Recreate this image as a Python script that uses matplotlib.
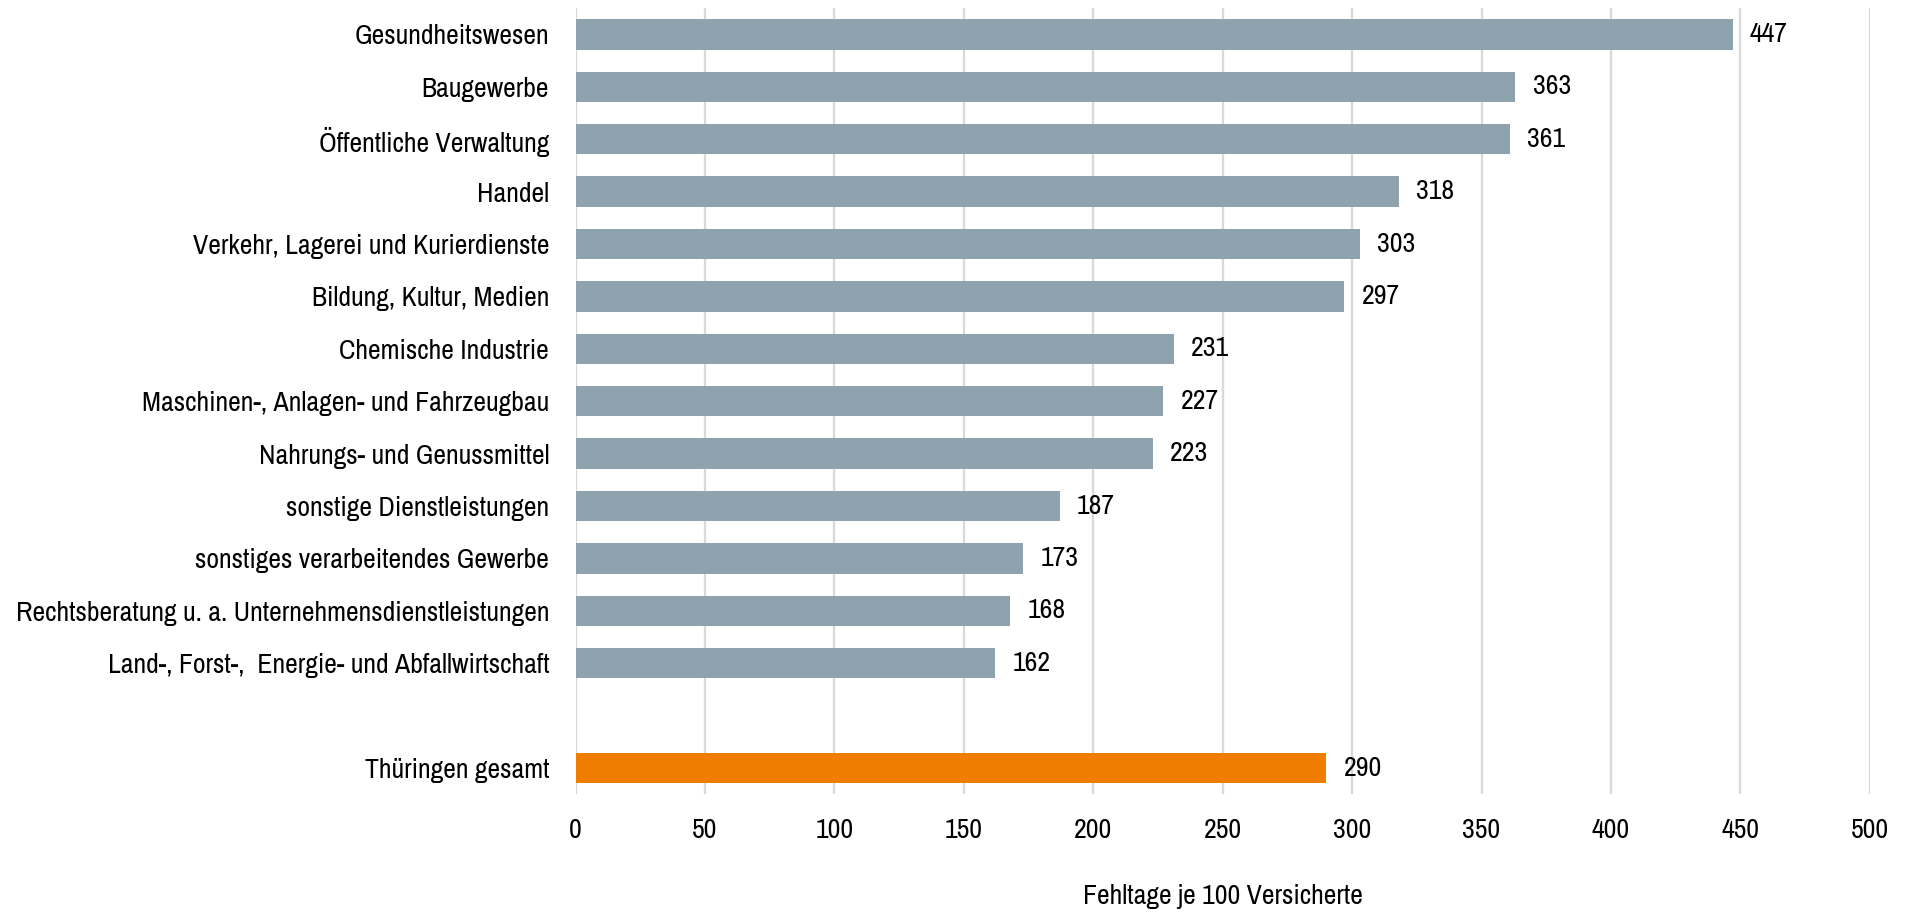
import matplotlib
matplotlib.use("Agg")
import matplotlib.pyplot as plt
from matplotlib import font_manager

categories = [
    "Gesundheitswesen",
    "Baugewerbe",
    "Öffentliche Verwaltung",
    "Handel",
    "Verkehr, Lagerei und Kurierdienste",
    "Bildung, Kultur, Medien",
    "Chemische Industrie",
    "Maschinen-, Anlagen- und Fahrzeugbau",
    "Nahrungs- und Genussmittel",
    "sonstige Dienstleistungen",
    "sonstiges verarbeitendes Gewerbe",
    "Rechtsberatung u. a. Unternehmensdienstleistungen",
    "Land-, Forst-,  Energie- und Abfallwirtschaft",
]
values = [447, 363, 361, 318, 303, 297, 231, 227, 223, 187, 173, 168, 162]
total_label = "Thüringen gesamt"
total_value = 290
xticks = [0, 50, 100, 150, 200, 250, 300, 350, 400, 450, 500]
xlabel = "Fehltage je 100 Versicherte"

names = {f.name for f in font_manager.fontManager.ttflist}
fam = ["Liberation Sans Narrow", "Arial Narrow", "Archivo Narrow", "PT Sans Narrow", "Liberation Sans"]
fam = [f for f in fam if f in names] + ["DejaVu Sans"]
plt.rcParams["font.family"] = fam

fs = 20
bar_col = "#8FA3AF"
tot_col = "#EF7D00"

fig = plt.figure(figsize=(19.06, 9.15), dpi=100)
ax = fig.add_axes([0.302, 0.132, 0.679, 0.859])

pos = list(range(len(categories)))
total_pos = len(categories) + 1
ax.barh(pos, values, height=0.58, color=bar_col, zorder=3)
ax.barh([total_pos], [total_value], height=0.58, color=tot_col, zorder=3)

for p, v in zip(pos + [total_pos], values + [total_value]):
    ax.annotate(str(v), xy=(v, p), xytext=(12.5, 0), textcoords="offset points",
                va="center", ha="left", fontsize=fs, color="black")

ax.set_yticks(pos + [total_pos])
ax.set_yticklabels(categories + [total_label], fontsize=fs)
ax.set_ylim(14.5, -0.5)
ax.set_xlim(0, 500)
ax.set_xticks(xticks)
ax.set_xticklabels([str(t) for t in xticks], fontsize=fs)
ax.tick_params(axis="y", length=0, pad=19)
ax.tick_params(axis="x", length=0, pad=17)
ax.grid(axis="x", color="#D9D9D9", linewidth=1.6, zorder=0)
for s in ax.spines.values():
    s.set_visible(False)
ax.set_xlabel(xlabel, fontsize=fs, labelpad=30)

fig.savefig("out.png", dpi=100, facecolor="white")
